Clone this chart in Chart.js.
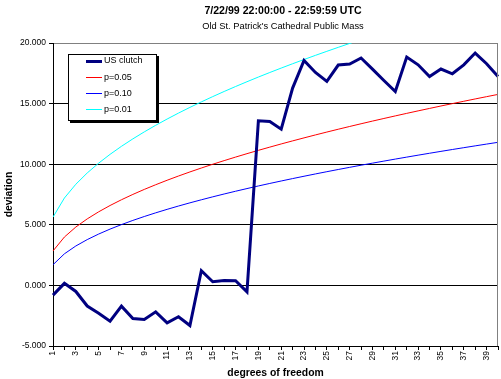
<!DOCTYPE html>
<html><head><meta charset="utf-8">
<script src="https://cdn.jsdelivr.net/npm/chart.js@4"></script>
<style>html,body{margin:0;padding:0;background:#fff}canvas{display:block}</style>
</head><body>
<canvas id="c" width="501" height="379"></canvas>
<script>
const categories = ['1','2','3','4','5','6','7','8','9','10','11','12','13','14','15','16','17','18','19','20',
  '21','22','23','24','25','26','27','28','29','30','31','32','33','34','35','36','37','38','39','40'];
const usClutch = [-0.80, 0.17, -0.50, -1.70, -2.30, -2.95, -1.71, -2.73, -2.81, -2.18,
  -3.09, -2.59, -3.31, 1.21, 0.30, 0.41, 0.38, -0.53, 13.58, 13.52,
  12.89, 16.28, 18.56, 17.57, 16.83, 18.18, 18.26, 18.76, 17.85, 16.91,
  16.00, 18.84, 18.20, 17.24, 17.85, 17.46, 18.20, 19.17, 18.29, 17.24];
const p05 = [2.841, 3.991, 4.815, 5.488, 6.070, 6.592, 7.067, 7.507, 7.919, 8.307,
  8.675, 9.026, 9.362, 9.685, 9.996, 10.296, 10.587, 10.869, 11.144, 11.410,
  11.671, 11.924, 12.172, 12.415, 12.652, 12.885, 13.113, 13.337, 13.557, 13.773,
  13.985, 14.194, 14.400, 14.602, 14.802, 14.998, 15.192, 15.384, 15.572, 15.758];
const p10 = [1.706, 2.605, 3.251, 3.779, 4.236, 4.645, 5.017, 5.362, 5.684, 5.987,
  6.275, 6.549, 6.812, 7.064, 7.307, 7.542, 7.769, 7.989, 8.204, 8.412,
  8.615, 8.813, 9.007, 9.196, 9.382, 9.563, 9.741, 9.916, 10.087, 10.256,
  10.422, 10.585, 10.745, 10.903, 11.059, 11.212, 11.363, 11.513, 11.660, 11.805];
const p01 = [5.635, 7.210, 8.345, 9.277, 10.086, 10.812, 11.475, 12.090, 12.666, 13.209,
  13.725, 14.217, 14.688, 15.141, 15.578, 16.000, 16.409, 16.805, 17.191, 17.566,
  17.932, 18.289, 18.638, 18.980, 19.314, 19.642, 19.963, 20.278, 20.588, 20.892,
  21.191, 21.486, 21.776, 22.061, 22.342, 22.619, 22.893, 23.162, 23.428, 23.691];
const seriesNames = ['US clutch', 'p=0.05', 'p=0.10', 'p=0.01'];
const yMin = -5, yMax = 20, yStep = 5;
const titleText = '7/22/99 22:00:00 - 22:59:59 UTC';
const subtitleText = "Old St. Patrick's Cathedral Public Mass";
const xTitle = 'degrees of freedom';
const yTitle = 'deviation';

const FONT = '"Liberation Sans", Arial, sans-serif';

const decor = {
  id: 'decor',
  beforeDraw(chart) {
    const ctx = chart.ctx;
    ctx.save(); ctx.fillStyle = '#fff'; ctx.fillRect(0, 0, chart.width, chart.height); ctx.restore();
  },
  afterDraw(chart) {
    const {ctx, chartArea: a} = chart;
    ctx.save();
    ctx.strokeStyle = '#808080'; ctx.lineWidth = 1;
    ctx.beginPath();
    ctx.moveTo(Math.round(a.right) - 0.5, a.top);
    ctx.lineTo(Math.round(a.right) - 0.5, a.bottom);
    ctx.stroke();
    ctx.fillStyle = '#000'; ctx.textAlign = 'center'; ctx.textBaseline = 'middle';
    ctx.font = 'bold 10.6px ' + FONT; ctx.fillText(titleText, 283, 11);
    ctx.font = '9.3px ' + FONT; ctx.fillText(subtitleText, 283, 26);
    // legend
    const bx = 68, by = 54, bw = 89, bh = 67;
    ctx.fillStyle = '#000'; ctx.fillRect(bx + 2, by + 2, bw, bh);
    ctx.fillStyle = '#fff'; ctx.fillRect(bx, by, bw, bh);
    ctx.strokeStyle = '#000'; ctx.lineWidth = 1; ctx.strokeRect(bx + 0.5, by + 0.5, bw - 1, bh - 1);
    ctx.textAlign = 'left'; ctx.font = '9px ' + FONT;
    chart.data.datasets.forEach((ds, i) => {
      const yy = 60.5 + i * 16.1;
      ctx.strokeStyle = ds.borderColor; ctx.lineWidth = ds.borderWidth;
      ctx.beginPath(); ctx.moveTo(86, Math.round(yy) + (ds.borderWidth % 2 ? 0.5 : 0)); ctx.lineTo(102, Math.round(yy) + (ds.borderWidth % 2 ? 0.5 : 0)); ctx.stroke();
      ctx.fillStyle = '#000'; ctx.fillText(ds.label, 104, yy + 0.5);
    });
    ctx.restore();
  }
};

new Chart(document.getElementById('c'), {
  type: 'line',
  data: {
    labels: categories,
    datasets: [
      {label: seriesNames[0], data: usClutch, borderColor: '#000080', borderWidth: 3, pointRadius: 0, tension: 0},
      {label: seriesNames[1], data: p05, borderColor: '#FF0000', borderWidth: 1, pointRadius: 0, tension: 0},
      {label: seriesNames[2], data: p10, borderColor: '#0000FF', borderWidth: 1, pointRadius: 0, tension: 0},
      {label: seriesNames[3], data: p01, borderColor: '#00FFFF', borderWidth: 1, pointRadius: 0, tension: 0, clip: 0}
    ]
  },
  options: {
    responsive: false, animation: false, devicePixelRatio: 1,
    layout: {padding: {left: 0, right: 3, top: 43, bottom: 0}},
    plugins: {legend: {display: false}, title: {display: false}, tooltip: {enabled: false}},
    scales: {
      x: {
        type: 'category', offset: false,
        grid: {drawOnChartArea: false, drawTicks: true, tickLength: 4, color: '#000'},
        border: {color: '#000', width: 1},
        ticks: {autoSkip: false, maxRotation: 90, minRotation: 90, padding: 1, color: '#000',
          font: {family: FONT, size: 8.5},
          callback: (v, i) => (i % 2 === 0 ? categories[i] : '')},
        title: {display: true, text: xTitle, color: '#000', font: {family: FONT, size: 10.4, weight: 'bold'}, padding: {top: 0, bottom: 0}},
        afterFit(s) { s.height = 33; s.paddingLeft = 0; s.paddingRight = 0; }
      },
      y: {
        min: yMin, max: yMax,
        grid: {color: (c) => (c.tick && c.tick.value === yMax ? '#808080' : '#000'), tickColor: '#000', tickLength: 4, drawTicks: true},
        border: {color: '#000', width: 1},
        ticks: {stepSize: yStep, padding: 3, color: '#000', font: {family: FONT, size: 8.5},
          callback: (v) => Number(v).toFixed(3).replace('.', '.')},
        title: {display: true, text: yTitle, color: '#000', font: {family: FONT, size: 10.4, weight: 'bold'}, padding: {top: 3, bottom: 0}},
        afterFit(s) { s.width = 53; s.paddingTop = 0; s.paddingBottom = 0; }
      }
    }
  },
  plugins: [decor]
});
</script>
</body></html>
